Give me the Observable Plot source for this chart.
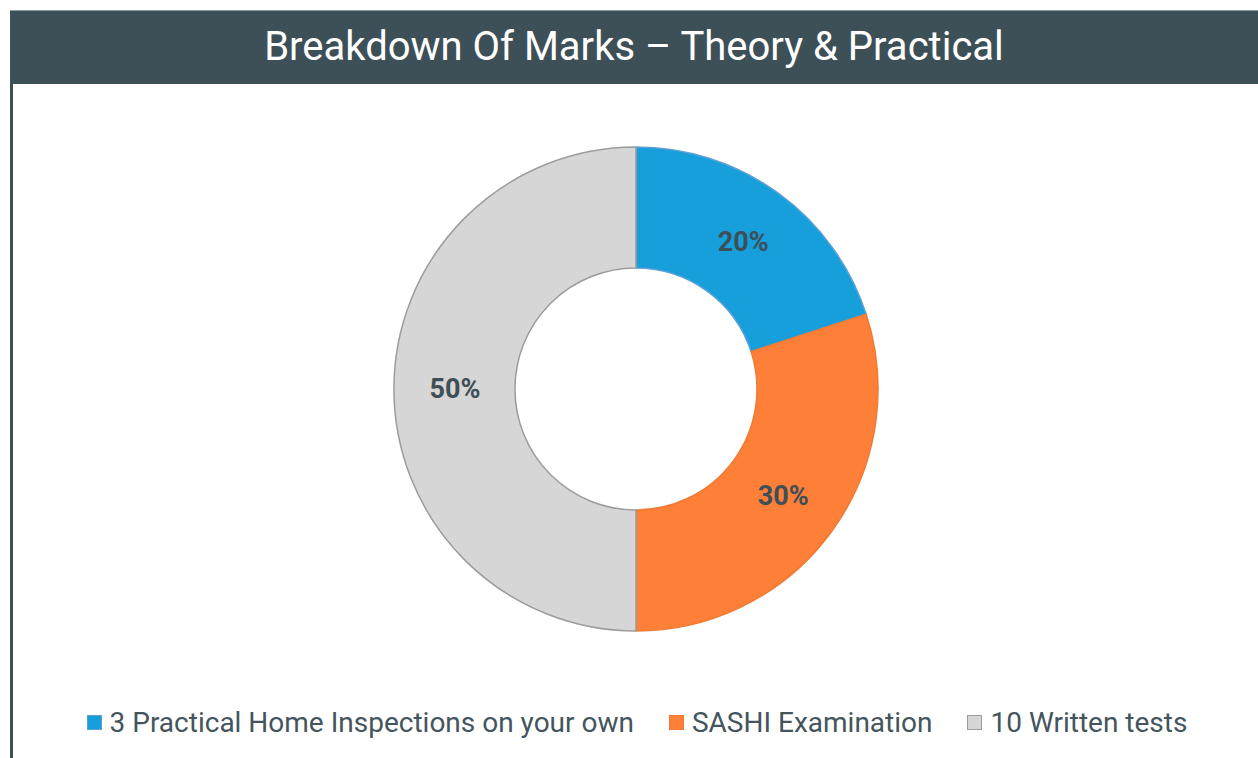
<!DOCTYPE html>
<html>
<head>
<meta charset="utf-8">
<script src="https://cdn.jsdelivr.net/npm/d3@7"></script>
<script src="https://cdn.jsdelivr.net/npm/@observablehq/plot@0.6"></script>
<style>
  html, body { margin: 0; padding: 0; background: #fff; width: 1258px; height: 758px; overflow: hidden; font-family: Roboto, "Open Sans", sans-serif; }
  #title { position: absolute; left: 10px; top: 10px; width: 1248px; height: 74px; background: #3d4f57; color: #fff; font-size: 40px; display: flex; align-items: center; justify-content: center; border-top: 1px solid #8a9aa2; box-sizing: border-box; padding-bottom: 3px; }
  #leftline { position: absolute; left: 10px; top: 84px; width: 3px; height: 674px; background: #3d4f57; }
  #chart { position: absolute; left: 0; top: 84px; }
  #legend { position: absolute; left: 0; top: 703px; width: 1258px; height: 38px; display: flex; justify-content: center; align-items: center; gap: 35px; color: #44555d; font-size: 28px; padding-left: 16px; box-sizing: border-box; }
  .item { display: flex; align-items: center; gap: 8px; white-space: nowrap; }
  .sw { width: 15px; height: 15px; display: inline-block; box-sizing: border-box; }
</style>
</head>
<body>
<div id="title"></div>
<div id="leftline"></div>
<div id="chart"></div>
<div id="legend"></div>
<script>
const titleText = "Breakdown Of Marks \u2013 Theory & Practical";
const categories = ["3 Practical Home Inspections on your own", "SASHI Examination", "10 Written tests"];
const values = [20, 30, 50];
const labels = ["20%", "30%", "50%"];
const colors = ["#169fdb", "#fd7f38", "#d6d6d6"];
const strokes = ["#5aa0d6", "#f07a32", "#9c9c9c"];

document.getElementById("title").textContent = titleText;

const data = categories.map((c, i) => ({category: c, value: values[i], label: labels[i], fill: colors[i], stroke: strokes[i]}));
const arcs = d3.pie().sort(null).value(d => d.value)(data);
const innerFrac = 0.5;
const labelPts = arcs.map(a => {
  const mid = (a.startAngle + a.endAngle) / 2;
  const r = (1 + innerFrac) / 2;
  return {x: r * Math.sin(mid), y: r * Math.cos(mid), label: a.data.label};
});

const W = 1258, H = 616, R = 242, cx = 636, cy = 305;

const donut = (index, scales) => {
  const x = scales.x, y = scales.y;
  const ox = x(0), oy = y(0);
  const rad = x(1) - x(0);
  const g = d3.create("svg:g").attr("transform", `translate(${ox},${oy})`);
  const arcGen = d3.arc().innerRadius(rad * innerFrac).outerRadius(rad);
  g.selectAll("path").data(arcs).join("path")
    .attr("d", arcGen)
    .attr("fill", d => d.data.fill)
    .attr("stroke", d => d.data.stroke)
    .attr("stroke-width", 1.5)
    .attr("stroke-linejoin", "round");
  return g.node();
};

const chart = Plot.plot({
  width: W,
  height: H,
  margin: 0,
  style: {background: "transparent", fontFamily: "Roboto, sans-serif"},
  x: {domain: [-1, 1], range: [cx - R, cx + R], axis: null},
  y: {domain: [-1, 1], range: [cy + R, cy - R], axis: null},
  marks: [
    donut,
    Plot.text(labelPts, {x: "x", y: "y", text: "label", fill: "#3d4f57", fontSize: 27, fontWeight: "bold"})
  ]
});
document.getElementById("chart").appendChild(chart);

const legend = document.getElementById("legend");
data.forEach(d => {
  const it = document.createElement("div");
  it.className = "item";
  const sw = document.createElement("span");
  sw.className = "sw";
  sw.style.background = d.fill;
  sw.style.border = `1.5px solid ${d.stroke}`;
  const t = document.createElement("span");
  t.textContent = d.category;
  it.appendChild(sw); it.appendChild(t);
  legend.appendChild(it);
});
</script>
</body>
</html>
